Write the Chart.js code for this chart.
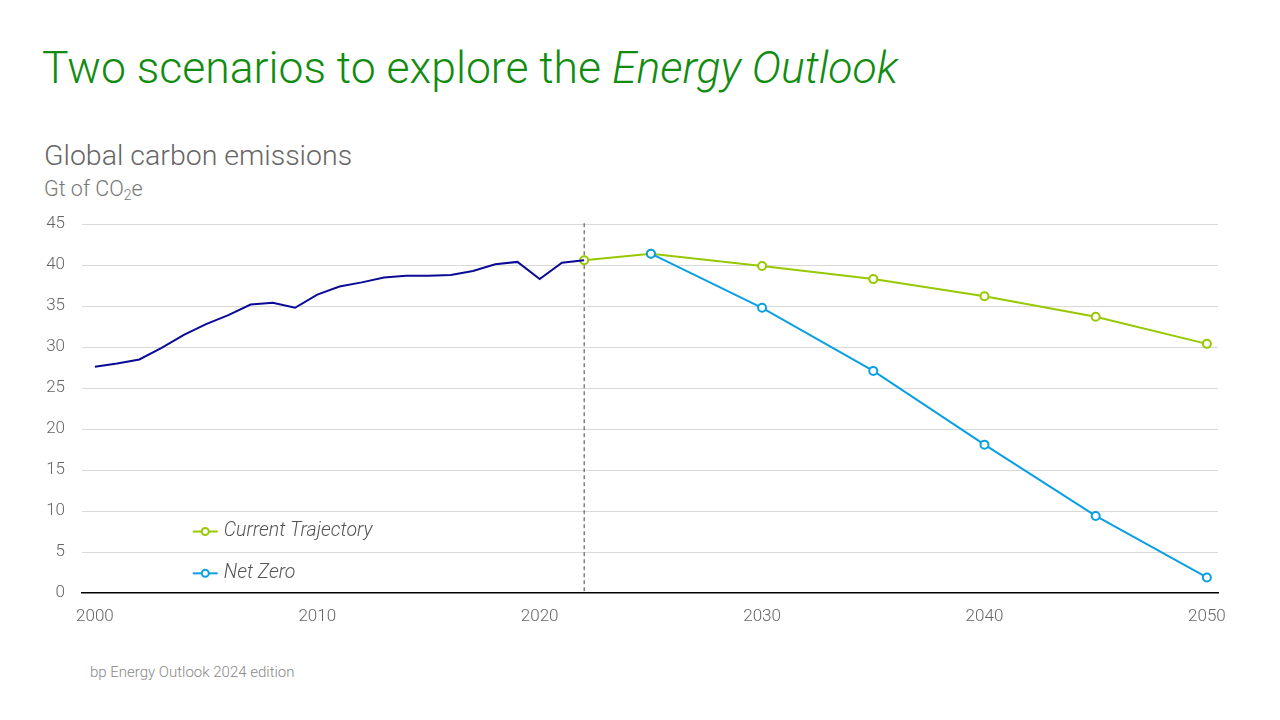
<!DOCTYPE html>
<html>
<head>
<meta charset="utf-8">
<script src="https://cdn.jsdelivr.net/npm/chart.js@4"></script>
<style>
  body { margin: 0; width: 1280px; height: 720px; background: #fff; font-family: Roboto, "Liberation Sans", sans-serif; overflow: hidden; position: relative; }
  h1 { position: absolute; left: 42px; top: 42px; margin: 0; font-weight: 300; font-size: 44.5px; color: #118c11; }
  h1 em { font-style: italic; }
  .sub { position: absolute; left: 44px; top: 139px; font-size: 28.5px; color: #666; font-weight: 300; }
  .unit { position: absolute; left: 44px; top: 176px; font-size: 21.5px; color: #777; font-weight: 300; }
  .unit sub { font-size: 14px; vertical-align: -4px; }
  .foot { position: absolute; left: 90px; top: 663px; font-size: 15px; color: #888; font-weight: 300; }
  #wrap { position: absolute; left: 0; top: 197px; width: 1280px; height: 443px; }
</style>
</head>
<body>
<h1>Two scenarios to explore the <em>Energy Outlook</em></h1>
<div class="sub">Global carbon emissions</div>
<div class="unit">Gt of CO<sub>2</sub>e</div>
<div class="foot">bp Energy Outlook 2024 edition</div>
<div id="wrap"><canvas id="chart"></canvas></div>
<script>
// historical emissions, Gt CO2e
const histYears = [2000, 2001, 2002, 2003, 2004, 2005, 2006, 2007, 2008, 2009, 2010, 2011,
                   2012, 2013, 2014, 2015, 2016, 2017, 2018, 2019, 2020, 2021, 2022];
const histValues = [27.6, 28.0, 28.5, 29.9, 31.5, 32.8, 33.9, 35.2, 35.4, 34.8, 36.4, 37.4,
                    37.9, 38.5, 38.7, 38.7, 38.8, 39.3, 40.1, 40.4, 38.3, 40.3, 40.6];

// scenarios
const ctYears = [2022, 2025, 2030, 2035, 2040, 2045, 2050];
const ctValues = [40.6, 41.4, 39.9, 38.3, 36.2, 33.7, 30.4];
const nzYears = [2025, 2030, 2035, 2040, 2045, 2050];
const nzValues = [41.4, 34.8, 27.1, 18.1, 9.4, 1.9];

const xTicks = [2000, 2010, 2020, 2030, 2040, 2050];
const yTicks = [0, 5, 10, 15, 20, 25, 30, 35, 40, 45];
const splitYear = 2022;

const legendItems = [
    { label: "Current Trajectory", color: "#97c800" },
    { label: "Net Zero", color: "#0aa0e2" }
];
const legendValues = [7.5, 2.4];   // y positions in data units, between gridlines

const toPoints = (xs, ys) => xs.map((x, i) => ({ x: x, y: ys[i] }));

// dashed line at the last historical year + legend drawn inside the plot
const extras = {
    id: "extras",
    beforeDatasetsDraw(chart) {
        const { ctx, chartArea, scales } = chart;
        const x = scales.x.getPixelForValue(splitYear);
        ctx.save();
        ctx.strokeStyle = "#444";
        ctx.lineWidth = 1;
        ctx.setLineDash([4, 3]);
        ctx.beginPath();
        ctx.moveTo(x, chartArea.top - 1);
        ctx.lineTo(x, chartArea.bottom);
        ctx.stroke();
        ctx.restore();
    },
    afterDraw(chart) {
        const { ctx, scales } = chart;
        const x0 = scales.x.getPixelForValue(2004.4);
        ctx.save();
        legendItems.forEach((it, i) => {
            const y = scales.y.getPixelForValue(legendValues[i]);
            ctx.strokeStyle = it.color;
            ctx.lineWidth = 2;
            ctx.beginPath();
            ctx.moveTo(x0, y);
            ctx.lineTo(x0 + 25, y);
            ctx.stroke();
            ctx.beginPath();
            ctx.arc(x0 + 12.5, y, 3.5, 0, Math.PI * 2);
            ctx.fillStyle = "#fff";
            ctx.fill();
            ctx.stroke();
            ctx.fillStyle = "#555";
            ctx.font = "italic 300 19.5px Roboto";
            ctx.textBaseline = "middle";
            ctx.fillText(it.label, x0 + 31, y);
        });
        ctx.restore();
    }
};

new Chart(document.getElementById("chart").getContext("2d"), {
    type: "line",
    data: {
        datasets: [
            {
                label: "History",
                data: toPoints(histYears, histValues),
                borderColor: "#0a0a96",
                borderWidth: 2,
                pointRadius: 0,
                tension: 0
            },
            {
                label: "Net Zero",
                data: toPoints(nzYears, nzValues),
                borderColor: "#0aa0e2",
                backgroundColor: "#fff",
                borderWidth: 2,
                pointRadius: 4,
                pointBorderWidth: 2,
                tension: 0
            },
            {
                label: "Current Trajectory",
                data: toPoints(ctYears, ctValues),
                borderColor: "#97c800",
                backgroundColor: "#fff",
                borderWidth: 2,
                pointRadius: 4,
                pointBorderWidth: 2,
                tension: 0
            }
        ]
    },
    options: {
        responsive: true,
        maintainAspectRatio: false,
        animation: false,
        layout: { padding: { top: 20, right: 62, left: 0, bottom: 0 } },
        plugins: { legend: { display: false }, tooltip: { enabled: false } },
        scales: {
            x: {
                type: "linear",
                min: 1999.42,
                max: 2050.5,
                afterBuildTicks: s => { s.ticks = xTicks.map(v => ({ value: v })); },
                afterFit: s => { s.height = 47; },
                grid: { display: false },
                border: { display: true, color: "#000", width: 1.5 },
                ticks: {
                    color: "#666",
                    padding: 6,
                    font: { family: "Roboto", size: 17, weight: 300 },
                    callback: v => String(v)
                }
            },
            y: {
                min: 0,
                max: 45,
                afterBuildTicks: s => { s.ticks = yTicks.map(v => ({ value: v })); },
                afterFit: s => { s.width = 82; },
                border: { display: false },
                grid: {
                    color: c => c.tick.value === 0 ? "rgba(0,0,0,0)" : "#d9d9d9",
                    lineWidth: 1,
                    drawTicks: false
                },
                ticks: {
                    color: "#666",
                    padding: 17,
                    font: { family: "Roboto", size: 17, weight: 300 }
                }
            }
        }
    },
    plugins: [extras]
});
</script>
</body>
</html>
